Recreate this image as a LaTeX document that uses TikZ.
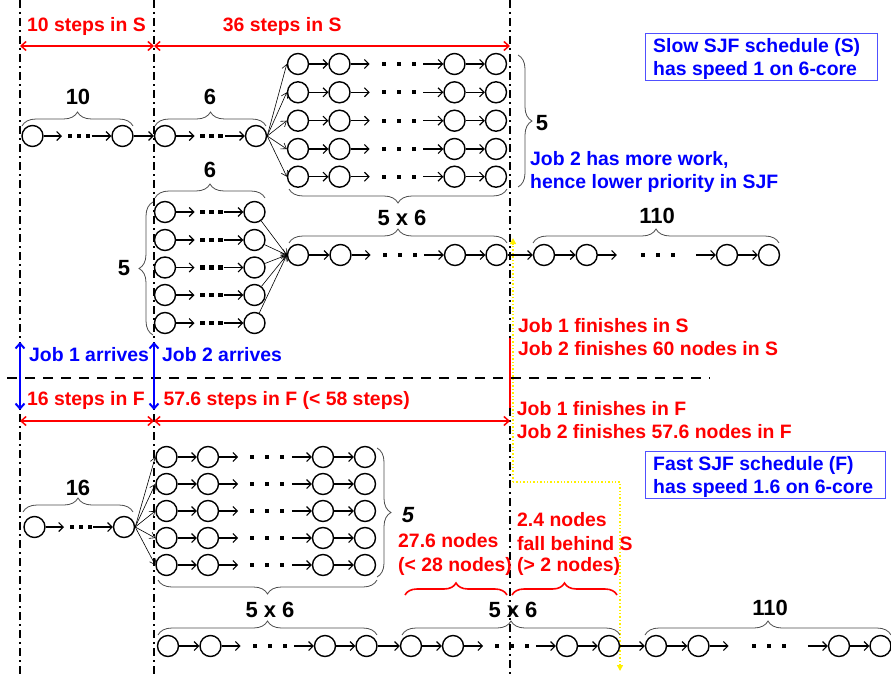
\documentclass[tikz,border=0pt]{standalone}
\usepackage{fontspec}
\setmainfont{Liberation Sans}
\usetikzlibrary{arrows.meta,decorations.pathreplacing,calc}
\definecolor{myred}{RGB}{255,0,0}
\definecolor{myblue}{RGB}{0,0,255}
\definecolor{boxblue}{RGB}{80,80,255}
\definecolor{myyellow}{RGB}{255,240,0}
\tikzset{
 nd/.style={circle, draw, fill=white, line width=1.4pt, minimum size=21pt, inner sep=0pt},
 arr/.style={line width=1.1pt, -{Straight Barb[length=4.5pt,width=9pt]}},
 fan/.style={line width=0.6pt, -{Straight Barb[length=5pt,width=7pt]}},
 dotsq/.style={rectangle, fill=black, minimum size=4.2pt, inner sep=0pt},
 brc/.style={decorate, decoration={brace, amplitude=14pt}, draw=black!70, line width=0.8pt},
 rbrc/.style={decorate, decoration={brace, amplitude=12pt}, draw=myred, line width=1.6pt},
 txt/.style={font=\bfseries\fontsize{19.4}{23}\selectfont, inner sep=0pt, anchor=base west},
 num/.style={font=\bfseries\fontsize{22}{26}\selectfont, inner sep=0pt, anchor=base},
 vline/.style={line width=1.6pt, dash pattern=on 8pt off 4pt on 2pt off 4pt},
 redarr/.style={draw=myred, line width=1.5pt, {Straight Barb[length=5pt,width=9pt]}-{Straight Barb[length=5pt,width=9pt]}},
 bluearr/.style={draw=myblue, line width=2pt, {Straight Barb[length=5pt,width=9pt]}-{Straight Barb[length=5pt,width=9pt]}},
 yel/.style={draw=myyellow, line width=1.4pt, dotted},
 bbox/.style={draw=boxblue, line width=0.9pt},
}
\newcommand{\fourchain}[7]{%
  \node[nd] (#1a) at (#3,#2) {};
  \node[nd] (#1b) at (#4,#2) {};
  \node[nd] (#1c) at (#5,#2) {};
  \node[nd] (#1d) at (#6,#2) {};
  \draw[arr] (#1a) -- (#1b);
  \draw[arr] (#1c) -- (#1d);
  \coordinate (#1p) at ($(#1b.east)+(19,0)$);
  \coordinate (#1q) at ($(#1c.west)+(-20,0)$);
  \draw[arr] (#1b) -- (#1p);
  \draw[arr] (#1q) -- (#1c);
  \node[dotsq] (#1x1) at ($(#1p)+(#7,0)$) {};
  \node[dotsq] (#1x2) at ($(#1p)+(#7+15,0)$) {};
  \node[dotsq] (#1x3) at ($(#1p)+(#7+30,0)$) {};
}
\newcommand{\twochain}[4]{%
  \node[nd] (#1a) at (#3,#2) {};
  \node[nd] (#1b) at (#4,#2) {};
  \coordinate (#1p) at ($(#1a)+(29.5,0)$);
  \coordinate (#1q) at ($(#1b)+(-31,0)$);
  \draw[arr] (#1a) -- (#1p);
  \draw[arr] (#1q) -- (#1b);
  \node[dotsq] (#1x1) at ($(#1p)+(8,0)$) {};
  \node[dotsq] (#1x2) at ($(#1p)+(17,0)$) {};
  \node[dotsq] (#1x3) at ($(#1p)+(26,0)$) {};
}
\begin{document}
\begin{tikzpicture}[x=1pt,y=-1pt]
\useasboundingbox (0,0) rectangle (891,677);
% vertical dash-dot lines
\coordinate (v1t) at (20,0); \coordinate (v1b) at (20,677);
\coordinate (v2t) at (154,0); \coordinate (v2b) at (154,677);
\coordinate (v3t) at (510,0); \coordinate (v3m) at (510,338);
\coordinate (v3n) at (510,408); \coordinate (v3b) at (510,677);
\draw[vline] (v1t) -- (v1b);
\draw[vline] (v2t) -- (v2b);
\draw[vline] (v3t) -- (v3m);
\draw[vline] (v3n) -- (v3b);
\draw[myred, line width=1.5pt] (v3m) -- (v3n);
% horizontal dashed separator
\coordinate (h1) at (7,378); \coordinate (h2) at (710,378);
\draw[line width=1.5pt, dash pattern=on 10pt off 8pt] (h1) -- (h2);
% yellow dotted guide
\coordinate (y1) at (513,238); \coordinate (y2) at (513,482);
\coordinate (y3) at (620,482); \coordinate (y4) at (620,671);
\draw[yel, -{Triangle[length=6pt,width=6pt]}] (y2) -- (y1);
\draw[yel, -{Triangle[length=6pt,width=6pt]}] (y2) -- (y3) -- (y4);
% red step arrows
\coordinate (a1l) at (20,46); \coordinate (a1r) at (154,46); \coordinate (a2r) at (510,46);
\draw[redarr] (a1l) -- (a1r);
\draw[redarr] (a1r) -- (a2r);
\coordinate (b1l) at (20,421); \coordinate (b1r) at (154,421); \coordinate (b2r) at (510,421);
\draw[redarr] (b1l) -- (b1r);
\draw[redarr] (b1r) -- (b2r);
% blue arrival arrows
\coordinate (u1t) at (20,342); \coordinate (u1b) at (20,410);
\coordinate (u2t) at (154,342); \coordinate (u2b) at (154,410);
\draw[bluearr] (u1t) -- (u1b);
\draw[bluearr] (u2t) -- (u2b);

% ===== S: Job 1 =====
\twochain{sA}{136}{32.5}{122.5}
\twochain{sB}{136}{165}{256}
\draw[arr] (sAb) -- (sBa);
\foreach \i/\y in {1/64,2/92.3,3/120.7,4/149,5/176.7}{
  \fourchain{sR\i}{\y}{298}{339.5}{454.5}{496}{14}
  \draw[fan] (sBb.east) -- (sR\i a.west);
}
% ===== S: Job 2 =====
\fourchain{sM}{255}{298}{340.5}{455}{496.5}{14}
\foreach \i/\y in {1/212,2/240,3/267.5,4/295,5/323}{
  \twochain{sJ\i}{\y}{165}{254.5}
  \draw[fan] (sJ\i b) -- (sMa.west);
}
\fourchain{sL}{255}{544}{586.7}{727}{769}{26}
\draw[arr] (sMd) -- (sLa);

% ===== F =====
\twochain{fA}{527}{34.5}{124}
\foreach \i/\y in {1/457,2/484,3/511,4/538,5/565}{
  \fourchain{fR\i}{\y}{166.5}{208}{323}{365}{14}
  \draw[fan] (fAb.east) -- (fR\i a.west);
}
\fourchain{fM}{646}{168}{210.5}{325}{366.5}{14}
\fourchain{fN}{646}{411}{453}{567}{609}{14}
\fourchain{fL}{646}{656}{698.5}{839}{880.5}{25}
\draw[arr] (fMd) -- (fNa);
\draw[arr] (fNd) -- (fLa);

% ===== braces (S) =====
\draw[brc] (22,126) -- (133,126);
\draw[brc] (155,126) -- (266,126);
\draw[brc] (155,198) -- (265,198);
\draw[brc] (518,55) -- (518,187);
\draw[brc] (507,189) -- (289,189);
\draw[brc] (289,243) -- (507,243);
\draw[brc] (153,335) -- (153,202);
\draw[brc] (533,243) -- (779,243);
% ===== braces (F) =====
\draw[brc] (23,512) -- (133,512);
\draw[brc] (377,448) -- (377,577);
\draw[brc] (377,580) -- (158,580);
\draw[brc] (158,635) -- (377,635);
\draw[brc] (402,635) -- (620,635);
\draw[brc] (645,635) -- (891,635);
\draw[rbrc] (405,595) -- (507,595);
\draw[rbrc] (512,595) -- (617,595);

% ===== numbers =====
\node[num] (n10) at (78,104) {10};
\node[num] (n6a) at (210,104) {6};
\node[num] (n6b) at (210,177) {6};
\node[num] (n5a) at (542,130) {5};
\node[num] (n5b) at (124,275) {5};
\node[num] (n56a) at (402,225) {5 x 6};
\node[num] (n110a) at (657,223) {110};
\node[num] (n16) at (78,495) {16};
\node[num, font=\bfseries\itshape\fontsize{22}{26}\selectfont] (n5c) at (408,522) {5};
\node[num] (n56b) at (270,617) {5 x 6};
\node[num] (n56c) at (513,617) {5 x 6};
\node[num] (n110b) at (770,615) {110};

% ===== red texts =====
\node[txt, text=myred] (t1) at (27,31.7) {10 steps in S};
\node[txt, text=myred] (t2) at (222.7,31.7) {36 steps in S};
\node[txt, text=myred] (t3) at (27,405) {16 steps in F};
\node[txt, text=myred] (t4) at (163.3,405) {57.6 steps in F (< 58 steps)};
\node[txt, text=myred] (t5) at (518,332) {Job 1 finishes in S};
\node[txt, text=myred] (t6) at (518,355) {Job 2 finishes 60 nodes in S};
\node[txt, text=myred] (t7) at (516.7,415) {Job 1 finishes in F};
\node[txt, text=myred] (t8) at (516.7,438) {Job 2 finishes 57.6 nodes in F};
\node[txt, text=myred] (t9) at (398,547.5) {27.6 nodes};
\node[txt, text=myred] (t10) at (398,571) {(< 28 nodes)};
\node[txt, text=myred] (t11) at (517,526.7) {2.4 nodes};
\node[txt, text=myred] (t12) at (517,550) {fall behind S};
\node[txt, text=myred] (t13) at (517,571.7) {(> 2 nodes)};

% ===== blue texts =====
\node[txt, text=myblue] (t14) at (29,361.7) {Job 1 arrives};
\node[txt, text=myblue] (t15) at (162,361.7) {Job 2 arrives};
\node[txt, text=myblue] (t16) at (530,165.7) {Job 2 has more work,};
\node[txt, text=myblue] (t17) at (530,188.5) {hence lower priority in SJF};
\draw[bbox] (645.7,33.3) rectangle (877.7,80.7);
\node[txt, text=myblue] (t18) at (653,52.3) {Slow SJF schedule (S)};
\node[txt, text=myblue] (t19) at (653,75) {has speed 1 on 6-core};
\draw[bbox] (645.7,451.7) rectangle (885,498.3);
\node[txt, text=myblue] (t20) at (653,470.7) {Fast SJF schedule (F)};
\node[txt, text=myblue] (t21) at (653,493.3) {has speed 1.6 on 6-core};
\end{tikzpicture}
\end{document}
